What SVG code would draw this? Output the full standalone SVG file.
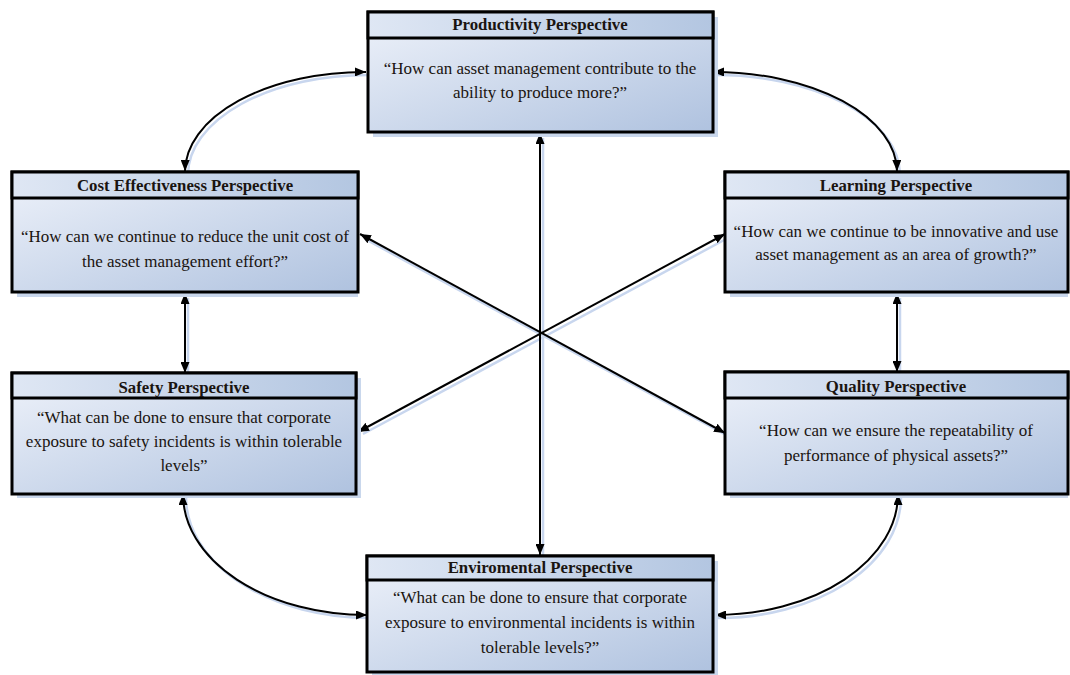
<svg xmlns="http://www.w3.org/2000/svg" width="1070" height="675" viewBox="0 0 1070 675">
<defs>
<linearGradient id="g" x1="0" y1="0" x2="1" y2="1">
<stop offset="0" stop-color="#eef2fa"/>
<stop offset="1" stop-color="#afc2df"/>
</linearGradient>
<linearGradient id="gh" x1="0" y1="0" x2="1" y2="0">
<stop offset="0" stop-color="#dfe7f4"/>
<stop offset="1" stop-color="#b3c6e1"/>
</linearGradient>
<marker id="ah" viewBox="0 0 11 9" refX="11" refY="4.5" markerWidth="11" markerHeight="9" markerUnits="userSpaceOnUse" orient="auto-start-reverse">
<path d="M0,0 L11,4.5 L0,9 z" fill="#000"/>
</marker>
</defs>
<style>
.sh{fill:#c9d7ec}
.box{fill:url(#g);stroke:#000;stroke-width:3}
.hd{fill:url(#gh);stroke:#000;stroke-width:3}
.t{font-family:"Liberation Serif","Times New Roman",serif;font-size:17px;fill:#1a1410;text-anchor:middle}
.h{font-weight:bold;font-size:16.8px}
.c{fill:none;stroke:#000;stroke-width:2;marker-start:url(#ah);marker-end:url(#ah)}
.cs{fill:none;stroke:#c8d6ee;stroke-width:2.5}
</style>
<rect width="1070" height="675" fill="#fff"/>

<g id="connectors">
<g transform="translate(3,3)">
<path class="cs" d="M540,135 L540,553"/>
<path class="cs" d="M185,295 L185,371"/>
<path class="cs" d="M897,295 L897,370"/>
<path class="cs" d="M362,236 L723,432"/>
<path class="cs" d="M723,236 L360,431"/>
<path class="cs" d="M185,171 A 180 100 0 0 1 366 72"/>
<path class="cs" d="M713,72 A 184 100 0 0 1 897,171"/>
<path class="cs" d="M183,494 A 184 121 0 0 0 367,615"/>
<path class="cs" d="M898,494 A 183 121 0 0 1 715,615"/>
</g>
<path class="c" d="M540,133 L540,555"/>
<path class="c" d="M185,293 L185,373"/>
<path class="c" d="M897,293 L897,372"/>
<path class="c" d="M360,234 L725,433"/>
<path class="c" d="M725,234 L358,432"/>
<path class="c" d="M185,171 A 180 100 0 0 1 366 72"/>
<path class="c" d="M713,72 A 184 100 0 0 1 897,171"/>
<path class="c" d="M183,494 A 184 121 0 0 0 367,615"/>
<path class="c" d="M898,494 A 183 121 0 0 1 715,615"/>
</g>

<g id="productivity">
<rect class="sh" x="373" y="17" width="345" height="120"/>
<rect class="box" x="368" y="12" width="345" height="120"/>
<rect class="hd" x="368" y="12" width="345" height="26"/>
<text class="t h" x="540" y="30">Productivity Perspective</text>
<text class="t" x="540" y="74">“How can asset management contribute to the</text>
<text class="t" x="540" y="98">ability to produce more?”</text>
</g>

<g id="cost">
<rect class="sh" x="17" y="177" width="341" height="120"/>
<rect class="box" x="12" y="172" width="346" height="120"/>
<rect class="hd" x="12" y="172" width="346" height="26"/>
<text class="t h" x="185" y="191">Cost Effectiveness Perspective</text>
<text class="t" x="185" y="242">“How can we continue to reduce the unit cost of</text>
<text class="t" x="185" y="267">the asset management effort?”</text>
</g>

<g id="learning">
<rect class="sh" x="730" y="177" width="338" height="120"/>
<rect class="box" x="725" y="172" width="343" height="120"/>
<rect class="hd" x="725" y="172" width="343" height="26"/>
<text class="t h" x="896" y="191">Learning Perspective</text>
<text class="t" x="896" y="237">“How can we continue to be innovative and use</text>
<text class="t" x="896" y="260">asset management as an area of growth?”</text>
</g>

<g id="safety">
<rect class="sh" x="17" y="378" width="344" height="120"/>
<rect class="box" x="12" y="373" width="344" height="121"/>
<rect class="hd" x="12" y="373" width="344" height="25"/>
<text class="t h" x="184" y="393">Safety Perspective</text>
<text class="t" x="184" y="423">“What can be done to ensure that corporate</text>
<text class="t" x="184" y="447">exposure to safety incidents is within tolerable</text>
<text class="t" x="184" y="471">levels”</text>
</g>

<g id="quality">
<rect class="sh" x="730" y="377" width="338" height="121"/>
<rect class="box" x="725" y="372" width="343" height="122"/>
<rect class="hd" x="725" y="372" width="343" height="26"/>
<text class="t h" x="896" y="392">Quality Perspective</text>
<text class="t" x="896" y="436">“How can we ensure the repeatability of</text>
<text class="t" x="896" y="461">performance of physical assets?”</text>
</g>

<g id="environmental">
<rect class="sh" x="372" y="561" width="346" height="114"/>
<rect class="box" x="367" y="556" width="346" height="116"/>
<rect class="hd" x="367" y="556" width="346" height="24"/>
<text class="t h" x="540" y="573">Enviromental Perspective</text>
<text class="t" x="540" y="603">“What can be done to ensure that corporate</text>
<text class="t" x="540" y="628">exposure to environmental incidents is within</text>
<text class="t" x="540" y="653">tolerable levels?”</text>
</g>
</svg>
